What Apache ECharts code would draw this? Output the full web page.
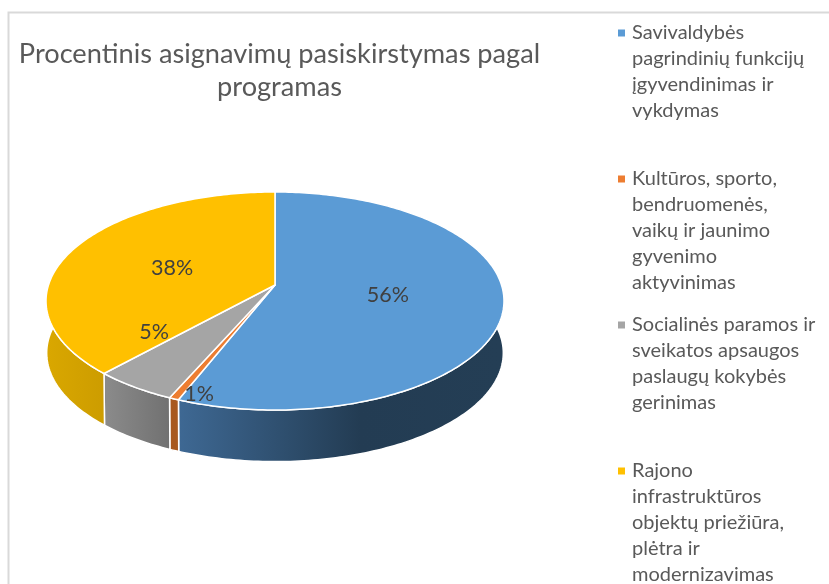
<!DOCTYPE html>
<html>
<head>
<meta charset="utf-8">
<script src="https://cdn.jsdelivr.net/npm/echarts@6/dist/echarts.min.js"></script>
<style>html,body{margin:0;padding:0;background:#fff}#c{width:829px;height:584px}</style>
</head>
<body>
<div id="c"></div>
<script>
const titleText = 'Procentinis asignavimų pasiskirstymas pagal\nprogramas';
const categories = [
  'Savivaldybės pagrindinių funkcijų įgyvendinimas ir vykdymas',
  'Kultūros, sporto, bendruomenės, vaikų ir jaunimo gyvenimo aktyvinimas',
  'Socialinės paramos ir sveikatos apsaugos paslaugų kokybės gerinimas',
  'Rajono infrastruktūros objektų priežiūra, plėtra ir modernizavimas'
];
const legendLabels = [
  'Savivaldybės\npagrindinių funkcijų\nįgyvendinimas ir\nvykdymas\n',
  'Kultūros, sporto,\nbendruomenės,\nvaikų ir jaunimo\ngyvenimo\naktyvinimas',
  'Socialinės paramos ir\nsveikatos apsaugos\npaslaugų kokybės\ngerinimas\n',
  'Rajono\ninfrastruktūros\nobjektų priežiūra,\nplėtra ir\nmodernizavimas'
];
const values = [56.0, 0.6, 5.15, 38.25];
const colors = ['#5b9bd5', '#ed7d31', '#a5a5a5', '#ffc000'];
const sideStops = [
  [[180, '#3e6893'], [360, '#233c53'], [500, '#243e55']],
  [[170, '#a8591f'], [180, '#a8591f']],
  [[107, '#8a8a8a'], [172, '#707070']],
  [[48, '#d9a700'], [107, '#cc9c00']]
];
const labelNudges = [[0, 0], [-29, 56], [-55, -1], [0, 2]];

// Projection of the pie disc (perspective view)
const view = { cx: 275, cy: 285, rx: 226.5, ry: 106.65, k: 0.1468, depth: 52, shrink: 0.997 };
function project(thetaDeg, r, bottom) {
  const t = thetaDeg * Math.PI / 180;
  const u = r * Math.sin(t), v = r * Math.cos(t);
  const d = 1 + view.k * v;
  const s = bottom ? view.shrink : 1;
  return [
    view.cx + s * view.rx * u / d,
    view.cy + (bottom ? view.depth : 0) - s * view.ry * v / d
  ];
}
function arc(a, b, bottom) {
  const n = Math.max(2, Math.ceil((b - a) / 1));
  const pts = [];
  for (let i = 0; i <= n; i++) pts.push(project(a + (b - a) * i / n, 1, bottom));
  return pts;
}
const total = values.reduce((s, v) => s + v, 0);
function bounds(i) {
  let acc = 0;
  for (let j = 0; j < i; j++) acc += values[j];
  return [acc / total * 360, (acc + values[i]) / total * 360];
}

const series = categories.map((name, i) => ({
  type: 'custom',
  name,
  coordinateSystem: 'none',
  silent: true,
  itemStyle: { color: colors[i] },
  data: [values[i]],
  renderItem(params, api) {
    const [a, b] = bounds(i);
    const top = arc(a, b, false);
    const bot = arc(a, b, true).reverse();
    const stops = sideStops[i];
    const x0 = stops[0][0], x1 = stops[stops.length - 1][0];
    const grad = new echarts.graphic.LinearGradient(x0, 0, x1, 0,
      stops.map(s => ({ offset: (s[0] - x0) / (x1 - x0), color: s[1] })), true);
    const mid = (a + b) / 2;
    const lp = project(mid, 0.5, false);
    return {
      type: 'group',
      children: [
        { type: 'polygon', z2: 1, shape: { points: top.concat(bot) },
          style: { fill: grad, stroke: '#fff', lineWidth: 1.5 } },
        { type: 'polygon', z2: 10, shape: { points: [project(0, 0, false)].concat(top) },
          style: { fill: colors[i], stroke: '#fff', lineWidth: 1.5, lineJoin: 'round' } },
        { type: 'text', z2: 20,
          style: { x: lp[0] + labelNudges[i][0], y: lp[1] + labelNudges[i][1],
            text: Math.round(api.value(0)) + '%', fill: '#404040',
            font: '21.5px Lato', align: 'center', verticalAlign: 'middle' } }
      ]
    };
  }
}));

const icon = 'path://M0 9.5H7V16.5H0ZM0 0L0 0M7 130L7 130';
const chart = echarts.init(document.getElementById('c'), null, { renderer: 'canvas' });
chart.setOption({
  animation: false,
  backgroundColor: '#fff',
  title: {
    text: titleText,
    left: 274.5, top: 33, textAlign: 'center',
    textStyle: { fontFamily: 'Lato', fontSize: 27.2, fontWeight: 'normal', color: '#595959', lineHeight: 33 }
  },
  graphic: [{
    type: 'rect', silent: true, z: -1,
    shape: { x: 8.5, y: 12.5, width: 900, height: 700 },
    style: { fill: 'none', stroke: '#d9d9d9', lineWidth: 2 }
  }],
  legend: {
    orient: 'vertical',
    left: 618, top: 20,
    height: 620,
    padding: 0,
    itemGap: 16,
    itemWidth: 7,
    itemHeight: 130,
    selectedMode: false,
    icon,
    data: categories,
    formatter: name => legendLabels[categories.indexOf(name)],
    textStyle: { fontFamily: 'Lato', fontSize: 20, color: '#595959', lineHeight: 26, padding: [0, 0, 0, 2] }
  },
  series
});
</script>
</body>
</html>
